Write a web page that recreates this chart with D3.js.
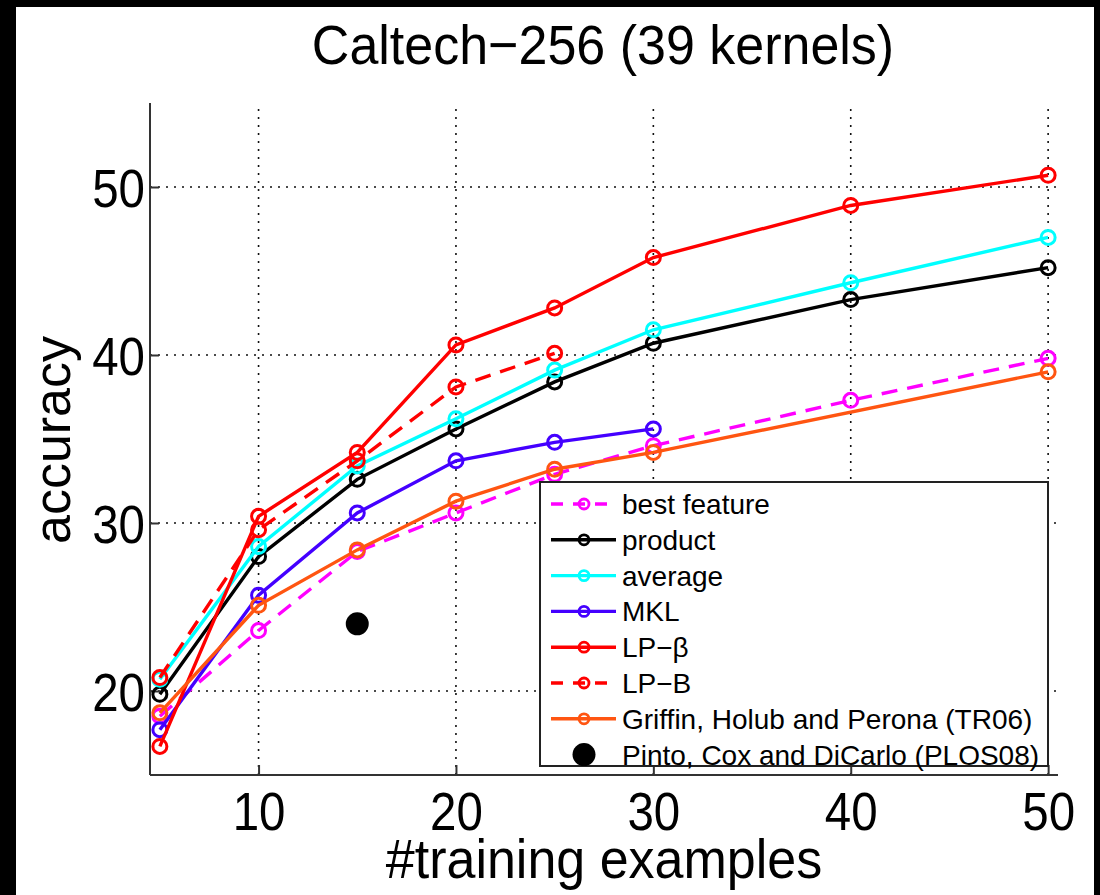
<!DOCTYPE html>
<html>
<head>
<meta charset="utf-8">
<script src="https://cdn.jsdelivr.net/npm/d3@7"></script>
<style>
  html, body { margin: 0; padding: 0; background: #000; }
  svg { display: block; }
  text { font-family: "Liberation Sans", Arial, Helvetica, sans-serif; fill: #000; }
</style>
</head>
<body>
<svg id="chart" width="1100" height="895"></svg>
<script>
// Accuracy vs. number of training examples on Caltech-256
const xTicks = [10, 20, 30, 40, 50];
const yTicks = [20, 30, 40, 50];

const xFull = [5, 10, 15, 20, 25, 30, 40, 50];
const bestFeature = [18.5, 23.6, 28.3, 30.6, 32.9, 34.6, 37.3, 39.8];
const product     = [19.8, 28.0, 32.6, 35.6, 38.4, 40.7, 43.3, 45.2];
const average     = [20.7, 28.6, 33.4, 36.2, 39.1, 41.5, 44.3, 47.0];

const xMKL = [5, 10, 15, 20, 25, 30];
const mkl  = [17.7, 25.7, 30.6, 33.7, 34.8, 35.6];

const lpBeta = [16.7, 30.4, 34.2, 40.6, 42.8, 45.8, 48.9, 50.7];

const xLPB = [5, 10, 15, 20, 25];
const lpB  = [20.8, 29.6, 33.7, 38.1, 40.1];

const xGriffin = [5, 10, 15, 20, 25, 30, 50];
const griffin  = [18.7, 25.1, 28.4, 31.3, 33.2, 34.2, 39.0];

const pintoX = [15];
const pintoY = [24.0];

const legendLabels = [
  "best feature", "product", "average", "MKL", "LP\u2212\u03B2", "LP\u2212B",
  "Griffin, Holub and Perona (TR06)", "Pinto, Cox and DiCarlo (PLOS08)"
];

const series = [
  { xs: xFull,    ys: bestFeature, color: "#ff00ff", dash: "16,10" },
  { xs: xFull,    ys: product,     color: "#000000", dash: null },
  { xs: xFull,    ys: average,     color: "#00ffff", dash: null },
  { xs: xMKL,     ys: mkl,         color: "#4400ff", dash: null },
  { xs: xFull,    ys: lpBeta,      color: "#ff0000", dash: null },
  { xs: xLPB,     ys: lpB,         color: "#ff0000", dash: "16,10" },
  { xs: xGriffin, ys: griffin,     color: "#ff5511", dash: null }
];

const svg = d3.select("#chart");

// white figure area inside the dark frame
svg.append("rect").attr("x", 16).attr("y", 7).attr("width", 1078).attr("height", 888).attr("fill", "#fff");

const plotLeft = 150, plotRight = 1058, plotTop = 103, plotBottom = 775;
const x = d3.scaleLinear().domain([4.5, 50.5]).range([plotLeft, plotRight]);
const y = d3.scaleLinear().domain([15, 55]).range([plotBottom, plotTop]);

// dotted grid
const grid = svg.append("g").attr("stroke", "#111").attr("stroke-width", 1.6).attr("stroke-dasharray", "2,6");
grid.selectAll("line.v").data(xTicks).join("line").attr("class", "v")
  .attr("x1", d => x(d)).attr("x2", d => x(d)).attr("y1", plotBottom).attr("y2", plotTop);
grid.selectAll("line.h").data(yTicks).join("line").attr("class", "h")
  .attr("y1", d => y(d)).attr("y2", d => y(d)).attr("x1", plotLeft).attr("x2", plotRight);

// axes with inward ticks
const xAxis = d3.axisBottom(x).tickValues(xTicks).tickSize(-10);
const yAxis = d3.axisLeft(y).tickValues(yTicks).tickSize(-9);

const gx = svg.append("g").attr("transform", `translate(0,${plotBottom})`).call(xAxis);
const gy = svg.append("g").attr("transform", `translate(${plotLeft},0)`).call(yAxis);
[gx, gy].forEach(g => {
  g.select(".domain").attr("stroke", "#333").attr("stroke-width", 2);
  g.selectAll(".tick line").attr("stroke", "#333").attr("stroke-width", 2);
  g.selectAll(".tick text").attr("font-size", 50).attr("fill", "#000")
    .attr("font-family", "\"Liberation Sans\", Arial, sans-serif");
});
gx.select(".domain").attr("d", `M${plotLeft},0H${plotRight}`);
gy.select(".domain").attr("d", `M0,${plotBottom}V${plotTop}`);
// tick labels: slightly narrow, tall glyphs
gx.selectAll(".tick text").attr("x", null).attr("y", null).attr("dy", null)
  .attr("transform", "translate(0,55) scale(0.95,1.07)");
gy.selectAll(".tick text").attr("x", null).attr("dy", null)
  .attr("transform", "translate(-5,19) scale(0.95,1.07)");

// series lines and open circle markers
const line = d3.line().x(d => x(d[0])).y(d => y(d[1]));
series.forEach(s => {
  const pts = s.xs.map((v, i) => [v, s.ys[i]]);
  const g = svg.append("g");
  g.append("path").attr("d", line(pts)).attr("fill", "none")
    .attr("stroke", s.color).attr("stroke-width", 3.4)
    .attr("stroke-dasharray", s.dash);
  g.selectAll("circle").data(pts).join("circle")
    .attr("cx", d => x(d[0])).attr("cy", d => y(d[1])).attr("r", 7)
    .attr("fill", "none").attr("stroke", s.color).attr("stroke-width", 3);
});

// single reported result
svg.selectAll("circle.pinto").data(pintoX.map((v, i) => [v, pintoY[i]])).join("circle")
  .attr("class", "pinto").attr("cx", d => x(d[0])).attr("cy", d => y(d[1])).attr("r", 11.5).attr("fill", "#000");

// legend
const lg = svg.append("g");
lg.append("rect").attr("x", 540).attr("y", 482).attr("width", 508).attr("height", 284)
  .attr("fill", "#fff").attr("stroke", "#222").attr("stroke-width", 2);
legendLabels.forEach((lab, i) => {
  const cy = 504 + i * 35.8;
  if (i < series.length) {
    const s = series[i];
    lg.append("line").attr("x1", 551).attr("x2", 616).attr("y1", cy).attr("y2", cy)
      .attr("stroke", s.color).attr("stroke-width", 3.4)
      .attr("stroke-dasharray", s.dash ? "12,10" : null);
    lg.append("circle").attr("cx", 584).attr("cy", cy).attr("r", 5)
      .attr("fill", "none").attr("stroke", s.color).attr("stroke-width", 2.8);
  } else {
    lg.append("circle").attr("cx", 584).attr("cy", cy).attr("r", 11.5).attr("fill", "#000");
  }
  lg.append("text").attr("x", 622).attr("y", cy).attr("dy", "0.36em")
    .attr("font-size", 28).text(lab);
});

// title and axis labels
svg.append("text").attr("transform", "translate(603,64) scale(1,1.08)").attr("text-anchor", "middle")
  .attr("font-size", 52).text("Caltech\u2212256 (39 kernels)");
svg.append("text").attr("transform", "translate(604,878) scale(1,1.06)").attr("text-anchor", "middle")
  .attr("font-size", 52).text("#training examples");
svg.append("text").attr("transform", "translate(70,440) rotate(-90)").attr("text-anchor", "middle")
  .attr("font-size", 52).text("accuracy");
</script>
</body>
</html>
